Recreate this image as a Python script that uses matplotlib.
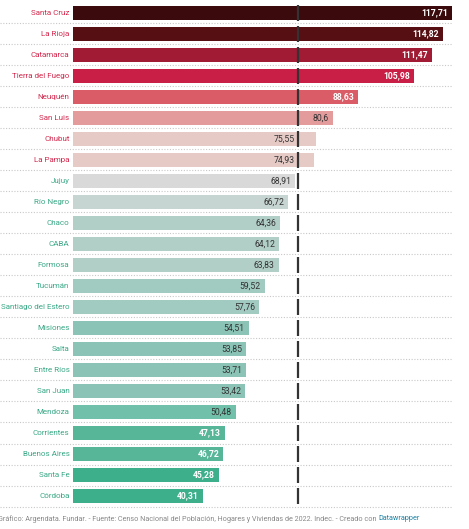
import matplotlib.pyplot as plt

# --- DATA ---
provincias = ["Santa Cruz", "La Rioja", "Catamarca", "Tierra del Fuego", "Neuquén",
              "San Luis", "Chubut", "La Pampa", "Jujuy", "Río Negro", "Chaco", "CABA",
              "Formosa", "Tucumán", "Santiago del Estero", "Misiones", "Salta",
              "Entre Ríos", "San Juan", "Mendoza", "Corrientes", "Buenos Aires",
              "Santa Fe", "Córdoba"]
valores = [117.71, 114.82, 111.47, 105.98, 88.63, 80.6, 75.55, 74.93, 68.91, 66.72,
           64.36, 64.12, 63.83, 59.52, 57.76, 54.51, 53.85, 53.71, 53.42, 50.48,
           47.13, 46.72, 45.28, 40.31]
promedio = 69.78

colores = ["#3b0a0c", "#560f12", "#a11b34", "#c91f46", "#da5c66", "#e39b9c",
           "#e6cac6", "#e6cac6", "#d9d9d9", "#c6d5d1", "#b1cec7", "#b1cec7",
           "#b1cec7", "#a1cac0", "#a1cac0", "#8bc4b6", "#8bc4b6", "#8bc4b6",
           "#8bc4b6", "#70c0aa", "#57b698", "#57b698", "#3eaf8b", "#3eaf8b"]
texto_blanco = {"Santa Cruz", "La Rioja", "Catamarca", "Tierra del Fuego", "Neuquén",
                "Corrientes", "Buenos Aires", "Santa Fe", "Córdoba"}
rojos = {"Santa Cruz", "La Rioja", "Catamarca", "Tierra del Fuego", "Neuquén",
         "San Luis", "Chubut", "La Pampa"}

plt.rcParams["font.family"] = ["Roboto", "DejaVu Sans"]

fig = plt.figure(figsize=(4.69, 5.29), dpi=100)
ax = fig.add_axes([0, 0.0425, 452 / 469, 0.953])

x_min = -73 / 3.22
ax.set_xlim(x_min, max(valores))
ax.set_ylim(len(provincias) - 0.5, -0.5)

y = list(range(len(provincias)))
ax.barh(y, valores, height=0.63, color=colores, zorder=2)

# separadores punteados y linea del promedio
for i in y:
    ax.plot([x_min, max(valores)], [i + 0.5, i + 0.5], linestyle=(0, (1, 1.5)),
            color="#c8c8c8", linewidth=0.8, zorder=1, clip_on=False)
    ax.plot([promedio, promedio], [i - 0.38, i + 0.38], color="#333333",
            linewidth=1.6, zorder=3, solid_capstyle="butt")

# etiquetas
for i, (p, v) in enumerate(zip(provincias, valores)):
    ax.text(-1.1, i, p, ha="right", va="center", fontsize=5.8,
            color="#d0284c" if p in rojos else "#3aa886")
    blanco = p in texto_blanco
    xr = v - 1.2
    if promedio < v < promedio + 9:
        xr = promedio - 1.0
    ax.text(xr, i, f"{v:.2f}".rstrip("0").replace(".", ","), ha="right",
            va="center", fontsize=6.2, color="white" if blanco else "#333333",
            fontweight="bold" if blanco else "normal", zorder=4)

ax.text(promedio, -0.75, "69,78", ha="center", va="bottom", fontsize=6.2,
        color="#333333", clip_on=False)

ax.axis("off")

# --- PIE ---
pie = "Gráfico: Argendata. Fundar. - Fuente: Censo Nacional del Población, Hogares y Viviendas de 2022. Indec. - Creado con "
t = fig.text(-2 / 469, 10 / 529, pie, fontsize=5.2, color="#888888", va="center")
fig.canvas.draw()
bb = t.get_window_extent()
fig.text(bb.x1 / fig.bbox.width, 10 / 529, "Datawrapper", fontsize=5.2,
         color="#1d81a2", va="center")

fig.savefig("out.png", dpi=100)
